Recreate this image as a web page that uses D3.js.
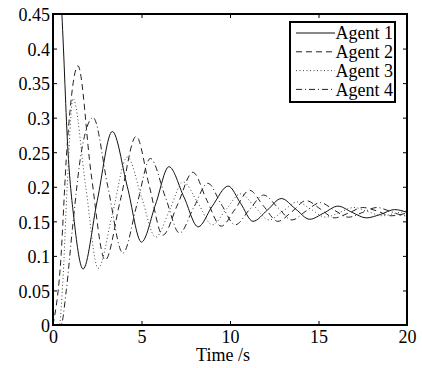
<!DOCTYPE html>
<html>
<head>
<meta charset="utf-8">
<script src="https://cdn.jsdelivr.net/npm/d3@7"></script>
<style>
  body { margin: 0; background: #fff; }
  svg { display: block; font-family: "Liberation Serif", "Times New Roman", serif; }
</style>
</head>
<body>
<div id="svgContainer"></div>
<script>
// [time, value] (extremes + crossings)
const agent1 = [[0, 0.62], [0.5, 0.45], [0.85, 0.25], [1.2, 0.15], [1.7, 0.081], [2.5, 0.18], [3.35, 0.28],
  [4.2, 0.2], [5.0, 0.12], [5.8, 0.175], [6.55, 0.229], [7.4, 0.185], [8.2, 0.142], [9.0, 0.172],
  [9.9, 0.201], [10.6, 0.176], [11.3, 0.15], [12.1, 0.166], [12.9, 0.183], [13.7, 0.168], [14.5, 0.153],
  [15.3, 0.162], [16.1, 0.172], [16.9, 0.163], [17.7, 0.155], [18.5, 0.16], [19.3, 0.167], [20, 0.163]];
const agent2 = [[0, 0], [0.4, 0.08], [0.8, 0.26], [1.41, 0.375], [2.15, 0.22], [2.95, 0.094], [3.8, 0.18],
  [4.7, 0.273], [5.45, 0.2], [6.2, 0.13], [7.05, 0.175], [7.9, 0.221], [8.7, 0.18], [9.5, 0.143],
  [10.3, 0.168], [11.1, 0.195], [11.9, 0.172], [12.7, 0.15], [13.5, 0.164], [14.3, 0.18], [15.1, 0.168],
  [15.9, 0.155], [16.7, 0.162], [17.5, 0.17], [18.3, 0.165], [19.1, 0.158], [20, 0.162]];
const agent3 = [[0, 0], [0.35, 0], [0.55, 0.06], [0.8, 0.2], [1.13, 0.328], [1.85, 0.2], [2.55, 0.082],
  [3.35, 0.16], [4.2, 0.243], [5.0, 0.185], [5.8, 0.127], [6.6, 0.167], [7.35, 0.207], [8.2, 0.176],
  [9.0, 0.145], [9.8, 0.168], [10.6, 0.19], [11.4, 0.171], [12.2, 0.152], [13.0, 0.165], [13.8, 0.178],
  [14.6, 0.167], [15.4, 0.156], [16.2, 0.163], [17.0, 0.17], [17.8, 0.164], [18.6, 0.158], [19.4, 0.162], [20, 0.165]];
const agent4 = [[0, 0], [0.45, 0], [0.75, 0.05], [1.1, 0.14], [1.6, 0.25], [2.27, 0.3], [3.1, 0.2],
  [3.95, 0.104], [4.75, 0.175], [5.5, 0.241], [6.35, 0.185], [7.15, 0.133], [7.95, 0.17], [8.75, 0.205],
  [9.5, 0.175], [10.3, 0.145], [11.1, 0.167], [11.9, 0.188], [12.7, 0.17], [13.5, 0.152], [14.3, 0.165],
  [15.1, 0.177], [15.9, 0.166], [16.7, 0.156], [17.5, 0.163], [18.3, 0.17], [19.1, 0.164], [19.9, 0.158], [20, 0.158]];
const seriesNames = ['Agent 1', 'Agent 2', 'Agent 3', 'Agent 4'];
const xTicks = [0, 5, 10, 15, 20];
const yTicks = [0, 0.05, 0.1, 0.15, 0.2, 0.25, 0.3, 0.35, 0.4, 0.45];
const xLabel = 'Time /s';

const [w, h] = [422, 368];
const [padL, padR, padT, padB] = [53, 407, 14, 325];
const dashes = [null, '6,4', '1,2.5', '6,3,1,3'];
const strokes = ['#111', '#222', '#444', '#222'];
const serif = '"Liberation Serif", "Times New Roman", "DejaVu Serif", serif';

const xScale = d3.scaleLinear().domain([0, 20]).range([padL, padR]);
const yScale = d3.scaleLinear().domain([0, 0.45]).range([padB, padT]);

const svg = d3.select('#svgContainer').append('svg')
  .attr('width', w).attr('height', h);

svg.append('clipPath').attr('id', 'plotClip')
  .append('rect').attr('x', padL).attr('y', padT)
  .attr('width', padR - padL).attr('height', padB - padT);

const line = d3.line()
  .x(d => xScale(d[0]))
  .y(d => yScale(d[1]))
  .curve(d3.curveMonotoneX);

svg.append('g').attr('clip-path', 'url(#plotClip)')
  .selectAll('path')
  .data([agent1, agent2, agent3, agent4])
  .enter().append('path')
  .attr('d', line)
  .attr('fill', 'none')
  .attr('stroke', (d, i) => strokes[i])
  .attr('stroke-width', 1)
  .attr('stroke-dasharray', (d, i) => dashes[i]);

// axes, ticks pointing inward
const fmt = d => String(+d.toFixed(2));
svg.append('g').attr('transform', `translate(0,${padB})`)
  .call(d3.axisBottom(xScale).tickValues(xTicks).tickSizeInner(-4).tickSizeOuter(0).tickPadding(5));
const yAxis = svg.append('g').attr('transform', `translate(${padL},0)`)
  .call(d3.axisLeft(yScale).tickValues(yTicks).tickFormat(fmt).tickSizeInner(-4).tickSizeOuter(0).tickPadding(3));
svg.append('g').attr('transform', `translate(0,${padT})`)
  .call(d3.axisTop(xScale).tickValues(xTicks).tickFormat('').tickSizeInner(-4).tickSizeOuter(0));
svg.append('g').attr('transform', `translate(${padR},0)`)
  .call(d3.axisRight(yScale).tickValues(yTicks).tickFormat('').tickSizeInner(-4).tickSizeOuter(0));

svg.selectAll('.domain').remove();
svg.selectAll('.tick line').attr('stroke', '#000');
svg.selectAll('.tick text').attr('fill', '#000')
  .style('font-family', serif).style('font-size', '18px');
yAxis.selectAll('.tick text').attr('dy', '0.38em');

svg.append('rect')
  .attr('x', padL).attr('y', padT)
  .attr('width', padR - padL).attr('height', padB - padT)
  .attr('fill', 'none').attr('stroke', '#000').attr('stroke-width', 2);

svg.append('text')
  .attr('x', 223).attr('y', 361)
  .attr('text-anchor', 'middle')
  .style('font-family', serif).style('font-size', '18px')
  .text(xLabel);

// legend
const legend = svg.append('g');
legend.append('rect')
  .attr('x', 290).attr('y', 22).attr('width', 105).attr('height', 80)
  .attr('fill', '#fff').attr('stroke', '#000').attr('stroke-width', 2);
const rows = legend.selectAll('g.row').data(seriesNames).enter()
  .append('g').attr('class', 'row')
  .attr('transform', (d, i) => `translate(0,${33 + i * 18.8})`);
rows.append('line')
  .attr('x1', 296).attr('x2', 335).attr('y1', 0).attr('y2', 0)
  .attr('stroke', (d, i) => strokes[i])
  .attr('stroke-dasharray', (d, i) => dashes[i]);
rows.append('text')
  .attr('x', 393).attr('y', 0).attr('dy', '0.35em')
  .attr('text-anchor', 'end')
  .style('font-family', serif).style('font-size', '18px')
  .text(d => d);
</script>
</body>
</html>
